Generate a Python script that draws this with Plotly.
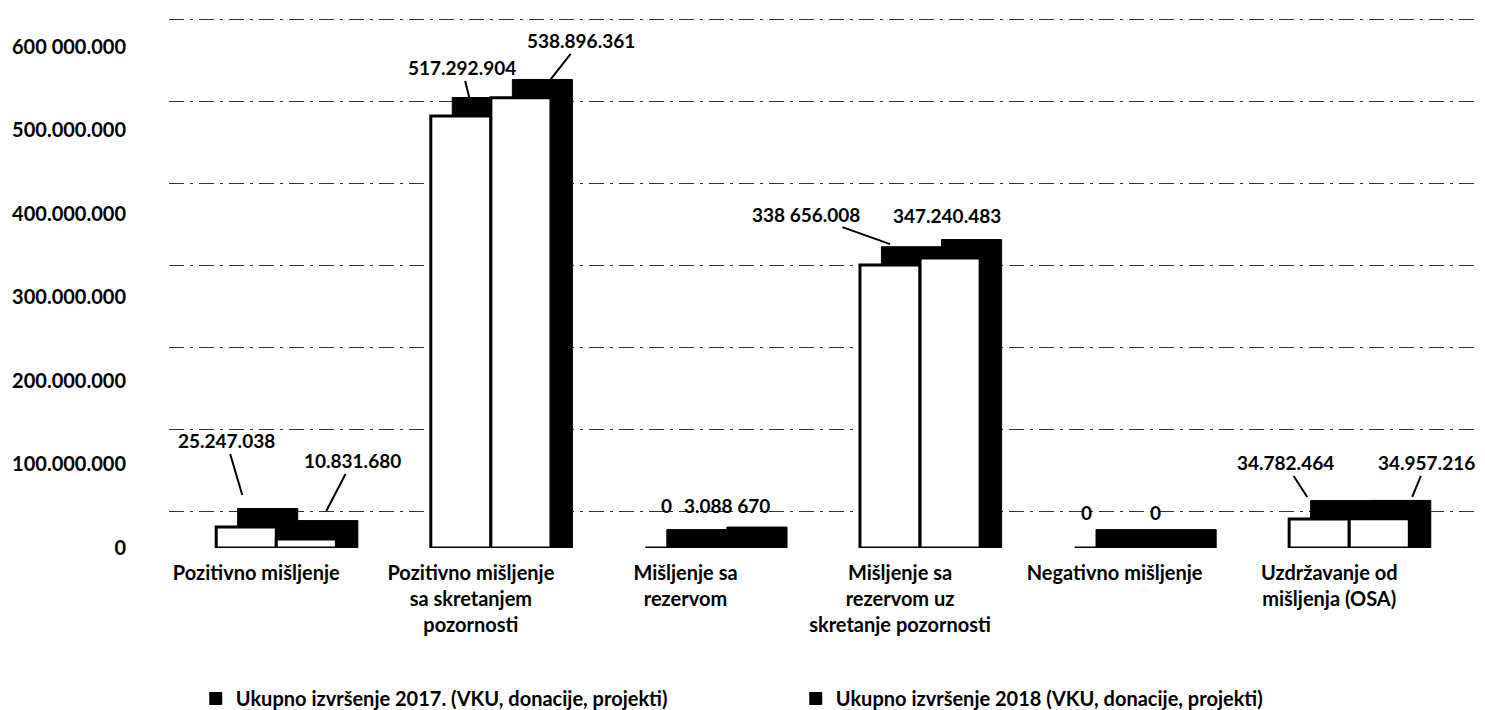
import plotly.graph_objects as go

# ---- data ----
categories = [
    "Pozitivno mišljenje",
    "Pozitivno mišljenje<br>sa skretanjem<br>pozornosti",
    "Mišljenje sa<br>rezervom",
    "Mišljenje sa<br>rezervom uz<br>skretanje pozornosti",
    "Negativno mišljenje",
    "Uzdržavanje od<br>mišljenja (OSA)",
]
values_2017 = [25247038, 517292904, 0, 338656008, 0, 34782464]
values_2018 = [10831680, 538896361, 3088670, 347240483, 0, 34957216]
labels_2017 = ["25.247.038", "517.292.904", "0", "338 656.008", "0", "34.782.464"]
labels_2018 = ["10.831.680", "538.896.361", "3.088 670", "347.240.483", "0", "34.957.216"]
series_names = [
    "Ukupno izvršenje 2017. (VKU, donacije, projekti)",
    "Ukupno izvršenje 2018 (VKU, donacije, projekti)",
]
tick_values = [0, 100000000, 200000000, 300000000, 400000000, 500000000, 600000000]
tick_labels = ["0", "100.000.000", "200.000.000", "300.000.000", "400.000.000",
               "500.000.000", "600 000.000"]

# ---- style ----
FONT = "Lato"
BAR_W = 0.28
DEPTH_X = 0.1
DEPTH_Y = 22e6
Y_RANGE = [0, 634.5e6]
GRID_RANGE = [-44.7e6, 602.4e6]

fig = go.Figure()

# depth (3D side) faces
for vals, off in [(values_2017, -BAR_W), (values_2018, 0.0)]:
    fig.add_trace(go.Bar(
        x=categories, y=[v + DEPTH_Y for v in vals], base=0,
        width=BAR_W, offset=off + DEPTH_X,
        marker=dict(color="black", line=dict(color="black", width=1)),
        showlegend=False, hoverinfo="skip",
    ))

# front faces
for vals, off, name in [(values_2017, -BAR_W, series_names[0]),
                        (values_2018, 0.0, series_names[1])]:
    fig.add_trace(go.Bar(
        x=categories, y=vals, width=BAR_W, offset=off, name=name,
        marker=dict(color="white", line=dict(color="black", width=3)),
        showlegend=False,
    ))

# legend entries
for name in series_names:
    fig.add_trace(go.Scatter(
        x=[None], y=[None], mode="markers", name=name,
        marker=dict(symbol="square", size=13, color="black"),
    ))

# invisible trace to carry the (back-wall) grid axis
fig.add_trace(go.Scatter(x=categories, y=[None] * len(categories), yaxis="y2",
                         showlegend=False, hoverinfo="skip", mode="markers"))

# data label annotations: (series, category index, xshift, yshift, ax, ay, arrow)
label_style = [
    (0, 0, -4, 32, -16, -54, True),
    (1, 0, 20, 28, 26, -50, True),
    (0, 1, 9, 16, -8, -32, True),
    (1, 1, 27, 15, 33, -42, True),
    (0, 2, -9, 43, 0, 0, False),
    (1, 2, -8, 40, 0, 0, False),
    (0, 3, 0, 21, -84, -30, True),
    (1, 3, -3, 42, 0, 0, False),
    (0, 4, -18, 36, 0, 0, False),
    (1, 4, -9, 36, 0, 0, False),
    (0, 5, -12, 22, -22, -34, True),
    (1, 5, 33, 22, 14, -34, True),
]
bar_px = 30  # half-distance between the two bar centres, in px
for s, c, xs, ys, ax, ay, arrow in label_style:
    vals = values_2017 if s == 0 else values_2018
    labs = labels_2017 if s == 0 else labels_2018
    centre_shift = -bar_px if s == 0 else bar_px
    fig.add_annotation(
        x=categories[c], y=vals[c], xref="x", yref="y",
        xshift=centre_shift + xs, yshift=ys,
        text=labs[c], showarrow=arrow, ax=ax, ay=ay,
        arrowhead=0, arrowwidth=2, arrowcolor="black", standoff=0,
        font=dict(family=FONT, size=19, color="black", weight="bold"),
    )

fig.update_layout(
    width=1485, height=710,
    margin=dict(l=161, r=0, t=10, b=167),
    paper_bgcolor="white", plot_bgcolor="white",
    barmode="overlay",
    font=dict(family=FONT, color="black"),
    xaxis=dict(
        type="category", range=[-0.5, 5.67],
        showgrid=False, showline=False, zeroline=False, ticks="",
        tickfont=dict(family=FONT, size=20, color="black", weight="bold"),
        ticklabelstandoff=11, ticklabelshift=-20,
    ),
    yaxis=dict(
        range=Y_RANGE, tickvals=tick_values, ticktext=tick_labels,
        showgrid=False, zeroline=False, showline=False, ticks="",
        ticklabelstandoff=42,
        tickfont=dict(family=FONT, size=20, color="black", weight="bold"),
    ),
    yaxis2=dict(
        overlaying="y", side="left", range=GRID_RANGE, tickvals=tick_values,
        showticklabels=False, showgrid=True, gridcolor="#333333", gridwidth=1.3,
        griddash="longdashdot", zeroline=False, showline=False, ticks="",
    ),
    legend=dict(
        orientation="h", x=0.0202, xanchor="left", y=-0.285, yanchor="middle",
        entrywidth=555, font=dict(family=FONT, size=20, color="black", weight="bold"),
        itemclick=False,
    ),
    showlegend=True,
)

fig.write_html("out.html")
